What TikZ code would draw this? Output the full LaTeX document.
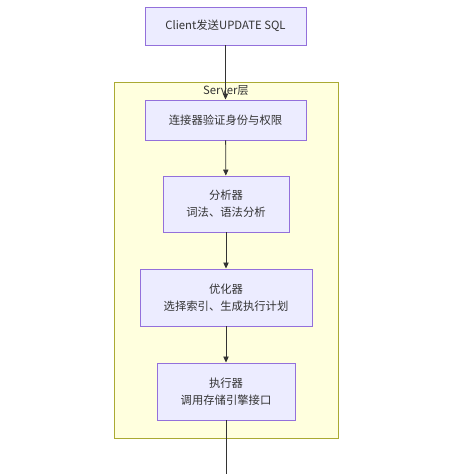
\documentclass[tikz,border=0pt]{standalone}
\usepackage{fontspec}
\setmainfont{Noto Sans CJK SC}
\usetikzlibrary{positioning,arrows.meta}
\definecolor{boxfill}{HTML}{ECECFF}
\definecolor{boxline}{HTML}{9370DB}
\definecolor{layerfill}{HTML}{FFFFDE}
\definecolor{layerline}{HTML}{AAAA33}
\definecolor{edgecol}{HTML}{333333}
\begin{document}
\begin{tikzpicture}[
    x=0.75pt, y=-0.75pt,
    stage/.style={draw=boxline, fill=boxfill, line width=0.7pt, align=center,
        font=\fontsize{8.5}{13}\selectfont, text=edgecol, inner sep=0pt},
    layer/.style={draw=layerline, fill=layerfill, line width=0.7pt, inner sep=0pt},
    flow/.style={-{Triangle[length=4.5pt,width=4pt]}, draw=edgecol, line width=0.6pt},
    node distance=27pt
]
\useasboundingbox (0,0) rectangle (457,474);

% Server layer
\node[layer, minimum width=168pt, minimum height=267pt] (server) at (226,260) {};
\node[font=\fontsize{8.5}{10}\selectfont, text=edgecol] (serverlbl) at (226,91) {Server层};

% stages
\node[stage, minimum width=120.75pt, minimum height=28.5pt] (client) at (225.5,26) {Client发送UPDATE SQL};
\node[stage, minimum width=120.75pt, minimum height=30pt] (conn) at (225.5,120) {连接器验证身份与权限};
\node[stage, minimum width=94.5pt, minimum height=42pt] (parser) at (226,204) {分析器\\词法、语法分析};
\node[stage, minimum width=129pt, minimum height=42.75pt] (optim) at (226,297.5) {优化器\\选择索引、生成执行计划};
\node[stage, minimum width=103.5pt, minimum height=42.75pt] (exec) at (226,391.5) {执行器\\调用存储引擎接口};
\coordinate (out) at (226,474);

\draw[flow] (client) -- (conn);
\draw[flow] (conn) -- (parser);
\draw[flow] (parser) -- (optim);
\draw[flow] (optim) -- (exec);
\draw[draw=edgecol, line width=0.6pt] (exec) -- (out);
\end{tikzpicture}
\end{document}
